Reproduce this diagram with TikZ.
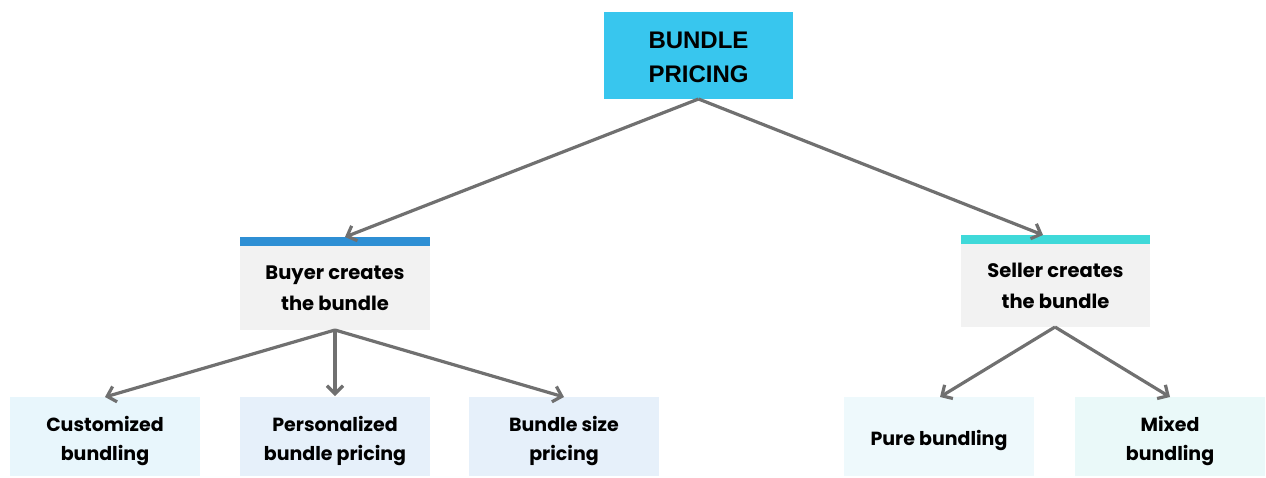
\documentclass[tikz,border=0pt]{standalone}
\usepackage{fontspec}
\setmainfont{Poppins}
\newfontfamily\headfont{Liberation Sans}
\usetikzlibrary{arrows.meta}
\definecolor{topblue}{HTML}{38C6EE}
\definecolor{barblue}{HTML}{2E8FD4}
\definecolor{barteal}{HTML}{3FD9D9}
\definecolor{midgray}{HTML}{F2F2F2}
\definecolor{leafA}{HTML}{E8F6FC}
\definecolor{leafB}{HTML}{E6F0FA}
\definecolor{leafC}{HTML}{EEF9FC}
\definecolor{leafD}{HTML}{EAF9F9}
\definecolor{linegray}{HTML}{707070}
\tikzset{
  box/.style={inner sep=0pt, align=center, font=\bfseries\fontsize{19}{29}\selectfont},
  midbox/.style={box, font=\bfseries\fontsize{19.5}{31}\selectfont},
  link/.style={draw=linegray, line width=3.2pt, -{Straight Barb[length=8pt,width=16pt,line width=3.2pt]}},
}
\begin{document}
\begin{tikzpicture}[x=1pt,y=-1pt]
\useasboundingbox (0,0) rectangle (1266,477);
% root
\fill[topblue] (604,12) rectangle (793,99);
\node[box, font=\headfont\bfseries\fontsize{24}{34}\selectfont] (root) at (698.5,57) {BUNDLE\\PRICING};
\coordinate (rootb) at (698.5,99);
% second level: grey panel with coloured bar on top
\fill[midgray] (240,246) rectangle (430,330);
\fill[barblue] (240,237) rectangle (430,246);
\node[midbox] (buyer) at (335,288) {Buyer creates\\the bundle};
\coordinate (buyert) at (345,237);
\coordinate (buyerb) at (335,330);
\fill[midgray] (961,244) rectangle (1150,327);
\fill[barteal] (961,235) rectangle (1150,244);
\node[midbox] (seller) at (1055.5,285.5) {Seller creates\\the bundle};
\coordinate (sellert) at (1043,235);
\coordinate (sellerb) at (1055,327);
% leaves
\fill[leafA] (10,397) rectangle (200,476);
\node[box] (cust) at (105,441) {Customized\\bundling};
\fill[leafB] (240,397) rectangle (430,476);
\node[box] (pers) at (335,441) {Personalized\\bundle pricing};
\fill[leafB] (469,397) rectangle (659,476);
\node[box] (size) at (564,441) {Bundle size\\pricing};
\fill[leafC] (844,397) rectangle (1034,476);
\node[box] (pure) at (939,440) {Pure bundling};
\fill[leafD] (1075,397) rectangle (1265,476);
\node[box] (mixed) at (1170,441) {Mixed\\bundling};
\coordinate (custt) at (105,397);
\coordinate (perst) at (335,396);
\coordinate (sizet) at (564,397);
\coordinate (puret) at (940,397);
\coordinate (mixedt) at (1170,397);
% connectors
\draw[link] (rootb) -- (buyert);
\draw[link] (rootb) -- (sellert);
\draw[link] (buyerb) -- (custt);
\draw[link] (buyerb) -- (perst);
\draw[link] (buyerb) -- (sizet);
\draw[link] (sellerb) -- (puret);
\draw[link] (sellerb) -- (mixedt);
\end{tikzpicture}
\end{document}
